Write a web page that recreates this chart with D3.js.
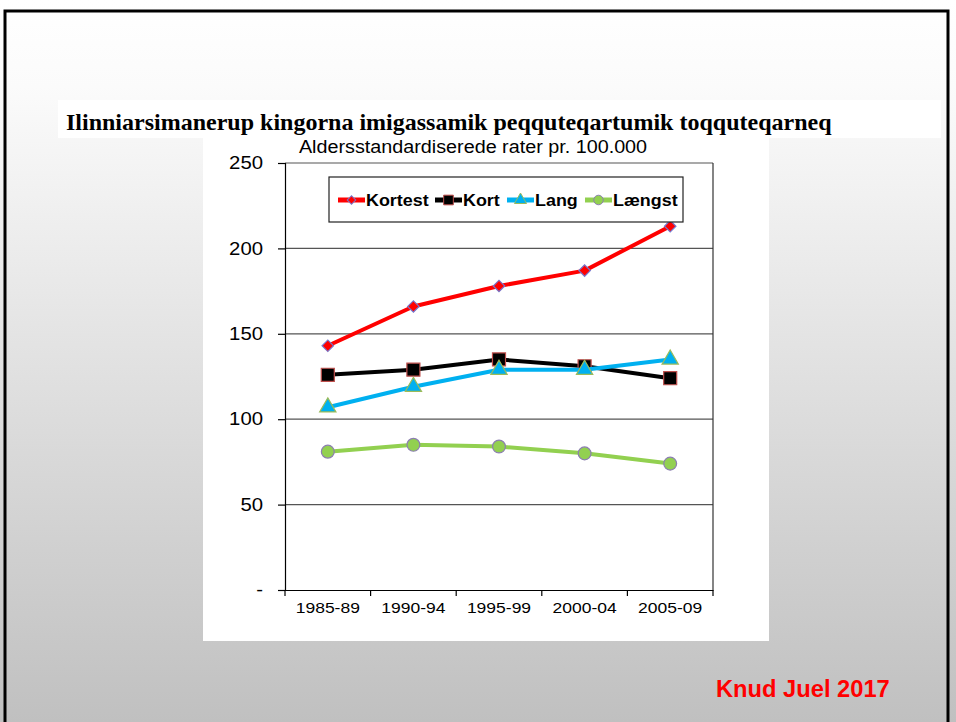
<!DOCTYPE html>
<html>
<head>
<meta charset="utf-8">
<script src="https://cdn.jsdelivr.net/npm/d3@7"></script>
<style>
  body { margin: 0; padding: 0; }
  svg { display: block; }
</style>
</head>
<body>
<svg id="slide" width="956" height="722"></svg>
<script>
// data
var periods = ["1985-89", "1990-94", "1995-99", "2000-04", "2005-09"];
var kortest = [143, 166, 178, 187, 213];
var kort    = [126, 129, 135, 131, 124];
var lang    = [107, 119, 129, 129, 135];
var laengst = [81, 85, 84, 80, 74];
var yTicks = [0, 50, 100, 150, 200, 250];
var yTickLabels = ["-", "50", "100", "150", "200", "250"];
var seriesNames = ["Kortest", "Kort", "Lang", "Længst"];

(function(){
	var seriesValues = [kortest, kort, lang, laengst];
	// diamond = square turned 45 degrees (rot)
	var seriesStyle = [
		{line: "#ff0000", fill: "#ff0000", stroke: "#7777cc", shape: d3.symbolSquare, size: 66, rot: 45},
		{line: "#000000", fill: "#000000", stroke: "#c0504d", shape: d3.symbolSquare, size: 170, rot: 0},
		{line: "#00b0f0", fill: "#00b0f0", stroke: "#9bbb59", shape: d3.symbolTriangle, size: 115, rot: 0},
		{line: "#92d050", fill: "#92d050", stroke: "#8c7fb0", shape: d3.symbolCircle, size: 130, rot: 0}
	];
	var sans = "'Liberation Sans', Arial, sans-serif";
	var stretch = 1.13;

	var svg = d3.select("#slide");

	// slide background
	var defs = svg.append("defs");
	var grad = defs.append("linearGradient")
		.attr("id", "bg").attr("x1", 0).attr("y1", 0).attr("x2", 0).attr("y2", 1);
	grad.append("stop").attr("offset", "0%").attr("stop-color", "#ffffff");
	grad.append("stop").attr("offset", "12%").attr("stop-color", "#fbfbfb");
	grad.append("stop").attr("offset", "100%").attr("stop-color", "#c0c0c0");

	svg.append("rect").attr("width", 956).attr("height", 722).attr("fill", "url(#bg)");
	svg.append("path")
		.attr("d", "M5,722 V11 H948 V722")
		.attr("fill", "none").attr("stroke", "#000").attr("stroke-width", 3);

	// title band
	svg.append("rect").attr("x", 58).attr("y", 100).attr("width", 883).attr("height", 38).attr("fill", "#ffffff");
	svg.append("text")
		.attr("x", 66).attr("y", 130)
		.attr("font-family", "'Liberation Serif', 'Times New Roman', serif")
		.attr("font-weight", "bold").attr("font-size", 24)
		.text("Ilinniarsimanerup kingorna imigassamik peqquteqartumik toqquteqarneq");

	// chart box
	svg.append("rect").attr("x", 203).attr("y", 137).attr("width", 566).attr("height", 504).attr("fill", "#ffffff");
	svg.append("text")
		.attr("transform", "translate(473,153) scale(" + stretch + ",1)")
		.attr("text-anchor", "middle")
		.attr("font-family", sans).attr("font-size", 17.5)
		.text("Aldersstandardiserede rater pr. 100.000");

	var pLeft = 285, pRight = 713, pTop = 163, pBottom = 590;

	var x = d3.scaleBand().domain(periods).range([pLeft, pRight]);
	var y = d3.scaleLinear().domain([0, 250]).range([pBottom, pTop]);

	var g = svg.append("g");

	// gridlines
	g.selectAll(".grid").data(yTicks.slice(1)).enter().append("line")
		.attr("x1", pLeft).attr("x2", pRight)
		.attr("y1", function(d){ return y(d); }).attr("y2", function(d){ return y(d); })
		.attr("stroke", "#555").attr("stroke-width", 1.2);
	g.append("line").attr("x1", pRight).attr("x2", pRight).attr("y1", pTop).attr("y2", pBottom)
		.attr("stroke", "#333").attr("stroke-width", 1.2);

	// y axis
	var yAxis = d3.axisLeft(y).tickValues(yTicks).tickSize(7).tickPadding(15)
		.tickFormat(function(d, i){ return yTickLabels[i]; });
	var ya = g.append("g").attr("transform", "translate(" + pLeft + ",0)").call(yAxis);
	ya.select(".domain").attr("stroke", "#000").attr("stroke-width", 1.2);
	ya.selectAll(".tick line").attr("stroke", "#000").attr("stroke-width", 1.2);
	ya.selectAll("text")
		.attr("transform", function(){ return "translate(" + (+d3.select(this).attr("x")) * (1 - stretch) + ",0) scale(" + stretch + ",1)"; })
		.attr("font-family", sans).attr("font-size", 18).attr("fill", "#000");

	// x axis, ticks at band edges
	var xAxis = d3.axisBottom(x).tickSize(0).tickPadding(12);
	var xa = g.append("g").attr("transform", "translate(0," + pBottom + ")").call(xAxis);
	xa.select(".domain").attr("stroke", "#000").attr("stroke-width", 1.2);
	xa.selectAll("text")
		.attr("transform", "scale(" + stretch + ",1)")
		.attr("font-family", sans).attr("font-size", 15.5).attr("fill", "#000");
	var edges = periods.map(function(p){ return x(p); }).concat([pRight]);
	g.selectAll(".xedge").data(edges).enter().append("line")
		.attr("x1", function(d){ return d; }).attr("x2", function(d){ return d; })
		.attr("y1", pBottom).attr("y2", pBottom + 6)
		.attr("stroke", "#000").attr("stroke-width", 1.2);

	// series
	var cx = function(i){ return x(periods[i]) + x.bandwidth() / 2; };
	var line = d3.line()
		.x(function(d, i){ return cx(i); })
		.y(function(d){ return y(d); });

	seriesValues.forEach(function(vals, s){
		var st = seriesStyle[s];
		g.append("path").datum(vals)
			.attr("d", line)
			.attr("fill", "none").attr("stroke", st.line).attr("stroke-width", 4)
			.attr("stroke-linejoin", "round");
		g.selectAll(".m" + s).data(vals).enter().append("path")
			.attr("d", d3.symbol().type(st.shape).size(st.size))
			.attr("transform", function(d, i){ return "translate(" + cx(i) + "," + y(d) + ") rotate(" + st.rot + ")"; })
			.attr("fill", st.fill).attr("stroke", st.stroke).attr("stroke-width", 1.2);
	});

	// legend
	var lg = svg.append("g");
	lg.append("rect").attr("x", 329).attr("y", 177).attr("width", 354).attr("height", 45)
		.attr("fill", "#ffffff").attr("stroke", "#222").attr("stroke-width", 1.2);
	var legendX = [338, 435, 507, 585];
	seriesNames.forEach(function(name, s){
		var st = seriesStyle[s];
		var lx = legendX[s], ly = 200;
		lg.append("line").attr("x1", lx).attr("x2", lx + 27).attr("y1", ly).attr("y2", ly)
			.attr("stroke", st.line).attr("stroke-width", 5);
		lg.append("path")
			.attr("d", d3.symbol().type(st.shape).size(st.size * 0.55))
			.attr("transform", "translate(" + (lx + 13.5) + "," + ly + ") rotate(" + st.rot + ")")
			.attr("fill", st.fill).attr("stroke", st.stroke).attr("stroke-width", 1);
		lg.append("text")
			.attr("transform", "translate(" + (lx + 28) + "," + (ly + 6) + ") scale(1.12,1)")
			.attr("font-family", sans)
			.attr("font-weight", "bold").attr("font-size", 16)
			.text(name);
	});

	// author note
	svg.append("text")
		.attr("x", 716).attr("y", 697)
		.attr("font-family", sans)
		.attr("font-weight", "bold").attr("font-size", 23.7).attr("fill", "#ff0000")
		.text("Knud Juel 2017");
})();
</script>
</body>
</html>
